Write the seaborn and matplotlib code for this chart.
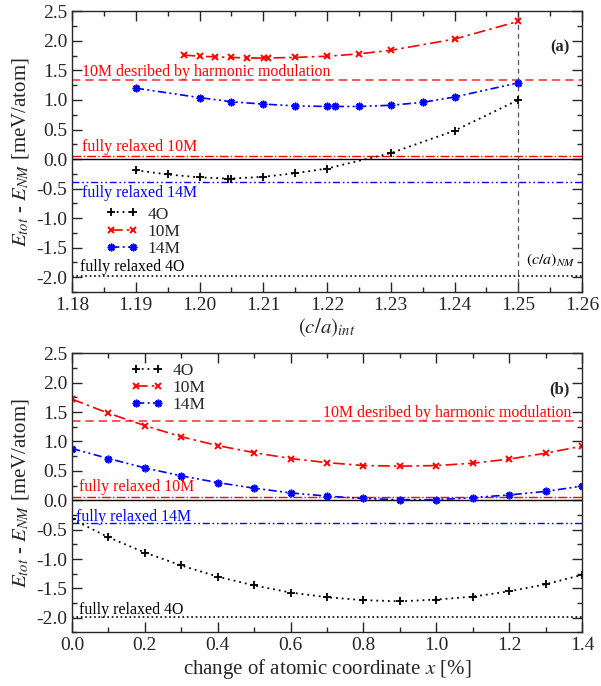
import matplotlib
matplotlib.use('Agg')
import matplotlib.pyplot as plt
from matplotlib.ticker import MultipleLocator
import seaborn as sns
import numpy as np

# panel (a): energy vs (c/a)_int
ca_4o = [1.19, 1.195, 1.20, 1.2045, 1.205, 1.21, 1.215, 1.22, 1.23, 1.24, 1.25]
e_4o_a = [-0.19, -0.26, -0.31, -0.33, -0.33, -0.30, -0.24, -0.16, 0.10, 0.48, 1.00]
ca_10m = [1.1975, 1.20, 1.2025, 1.205, 1.2075, 1.2101, 1.2107, 1.215, 1.22, 1.225, 1.23, 1.24, 1.25]
e_10m_a = [1.76, 1.74, 1.73, 1.72, 1.71, 1.71, 1.71, 1.72, 1.74, 1.78, 1.84, 2.03, 2.33]
ca_14m = [1.19, 1.20, 1.205, 1.21, 1.215, 1.22, 1.2212, 1.225, 1.23, 1.235, 1.24, 1.25]
e_14m_a = [1.20, 1.04, 0.97, 0.93, 0.90, 0.89, 0.89, 0.89, 0.91, 0.96, 1.05, 1.29]

# panel (b): energy vs change of atomic coordinate x
dx = [0.0, 0.1, 0.2, 0.3, 0.4, 0.5, 0.6, 0.7, 0.8, 0.9, 1.0, 1.1, 1.2, 1.3, 1.4]
e_4o_b = [-0.32, -0.63, -0.89, -1.11, -1.30, -1.45, -1.57, -1.65, -1.70, -1.72, -1.69, -1.64, -1.55, -1.43, -1.27]
e_10m_b = [1.72, 1.48, 1.27, 1.08, 0.93, 0.81, 0.71, 0.64, 0.59, 0.58, 0.59, 0.63, 0.70, 0.80, 0.92]
e_14m_b = [0.88, 0.71, 0.55, 0.415, 0.30, 0.205, 0.125, 0.07, 0.03, 0.01, 0.01, 0.045, 0.09, 0.15, 0.24]

# reference energies
e_harmonic = 1.34
e_relax_10m = 0.06
e_relax_14m = -0.39
e_relax_4o = -1.98
ca_nm = 1.25

sns.set_style('ticks')
plt.rcParams['font.family'] = ['Liberation Serif', 'DejaVu Serif']
plt.rcParams['mathtext.fontset'] = 'stix'
plt.rcParams['xtick.direction'] = 'in'
plt.rcParams['ytick.direction'] = 'in'
plt.rcParams['xtick.top'] = True
plt.rcParams['ytick.right'] = True

dashdotdot = (0, (5, 2, 1.2, 2, 1.2, 2))
dashdot = (0, (7, 2.5, 1.5, 2.5))
styles = {
    '4O': dict(color='black', linestyle=(0, (1, 2.2)), marker='+', markersize=6,
               markeredgewidth=1.3, markeredgecolor='black', lw=1.3),
    '10M': dict(color='red', linestyle=dashdot, marker='x', markersize=3.8,
                markeredgewidth=1.4, markeredgecolor='red', lw=1.2),
    '14M': dict(color='blue', linestyle=dashdotdot, marker=(8, 2, 0), markersize=5.5,
                markeredgewidth=1.2, markeredgecolor='blue', lw=1.2),
}

fig = plt.figure(figsize=(6.01, 6.86), dpi=100)
ax1 = fig.add_axes([0.1198, 0.5743, 0.8486, 0.4092])
ax2 = fig.add_axes([0.1198, 0.078, 0.8486, 0.407])


def refs(ax):
    ax.axhline(0, color='black', lw=1.0)
    ax.axhline(e_harmonic, color='#ff3b3b', lw=1.2, linestyle=(0, (5, 3)))
    ax.axhline(e_relax_10m, color='red', lw=1.0, linestyle='-.')
    ax.axhline(e_relax_14m, color='blue', lw=1.0, linestyle=dashdotdot)
    ax.axhline(e_relax_4o, color='black', lw=1.2, linestyle=':')


def style_axes(ax):
    ax.set_ylim(-2.25, 2.5)
    ax.yaxis.set_major_locator(MultipleLocator(0.5))
    ax.yaxis.set_minor_locator(MultipleLocator(0.25))
    ax.yaxis.set_major_formatter(matplotlib.ticker.FormatStrFormatter('%.1f'))
    ax.tick_params(which='major', length=7, width=1, labelsize=14)
    ax.tick_params(which='minor', length=3.5, width=1)
    for s in ax.spines.values():
        s.set_linewidth(1.0)
    ax.set_ylabel(r'$E_{tot}$ - $E_{NM}$ [meV/atom]', fontsize=15, labelpad=4)


def add_legend(ax, x, y):
    ax.legend(loc='upper left', bbox_to_anchor=(x, y), frameon=False, numpoints=2,
              fontsize=12.5, handlelength=1.9, handletextpad=0.5, labelspacing=0.05,
              borderaxespad=0, borderpad=0)


# ---- panel (a)
refs(ax1)
ax1.axvline(ca_nm, color='#555555', lw=0.9, linestyle=(0, (4, 3)))
sns.lineplot(x=ca_4o, y=e_4o_a, ax=ax1, estimator=None, label='4O', **styles['4O'])
sns.lineplot(x=ca_10m, y=e_10m_a, ax=ax1, estimator=None, label='10M', **styles['10M'])
sns.lineplot(x=ca_14m, y=e_14m_a, ax=ax1, estimator=None, label='14M', **styles['14M'])
style_axes(ax1)
ax1.set_xlim(1.18, 1.26)
ax1.xaxis.set_major_locator(MultipleLocator(0.01))
ax1.xaxis.set_minor_locator(MultipleLocator(0.005))
ax1.xaxis.set_major_formatter(matplotlib.ticker.FormatStrFormatter('%.2f'))
ax1.set_xlabel(r'$(c/a)_{int}$', fontsize=15, labelpad=2)
add_legend(ax1, 0.066, 0.305)
ax1.text(1.1815, 1.47, '10M desribed by harmonic modulation', color='red', fontsize=11.4, va='center')
ax1.text(1.1815, 0.20, 'fully relaxed 10M', color='red', fontsize=11.4, va='center')
ax1.text(1.1815, -0.57, 'fully relaxed 14M', color='blue', fontsize=11.4, va='center')
ax1.text(1.1813, -1.83, 'fully relaxed 4O', color='black', fontsize=11.4, va='center')
ax1.text(1.2512, -1.72, r'$(c/a)_{NM}$', color='black', fontsize=11.4, va='center')
ax1.text(0.975, 0.87, '(a)', transform=ax1.transAxes, fontsize=12, fontweight='bold',
         ha='right', va='center')

# ---- panel (b)
refs(ax2)
sns.lineplot(x=dx, y=e_4o_b, ax=ax2, estimator=None, label='4O', **styles['4O'])
sns.lineplot(x=dx, y=e_10m_b, ax=ax2, estimator=None, label='10M', **styles['10M'])
sns.lineplot(x=dx, y=e_14m_b, ax=ax2, estimator=None, label='14M', **styles['14M'])
style_axes(ax2)
ax2.set_xlim(0, 1.4)
ax2.xaxis.set_major_locator(MultipleLocator(0.2))
ax2.xaxis.set_minor_locator(MultipleLocator(0.1))
ax2.xaxis.set_major_formatter(matplotlib.ticker.FormatStrFormatter('%.1f'))
ax2.set_xlabel(r'change of atomic coordinate $x$ [%]', fontsize=15, labelpad=2)
add_legend(ax2, 0.115, 0.965)
ax2.text(1.37, 1.49, '10M desribed by harmonic modulation', color='red', fontsize=11.4,
         va='center', ha='right')
ax2.text(0.02, 0.23, 'fully relaxed 10M', color='red', fontsize=11.4, va='center')
ax2.text(0.01, -0.28, 'fully relaxed 14M', color='blue', fontsize=11.4, va='center')
ax2.text(0.02, -1.86, 'fully relaxed 4O', color='black', fontsize=11.4, va='center')
ax2.text(0.975, 0.87, '(b)', transform=ax2.transAxes, fontsize=12, fontweight='bold',
         ha='right', va='center')

fig.savefig('out.png', dpi=100)
